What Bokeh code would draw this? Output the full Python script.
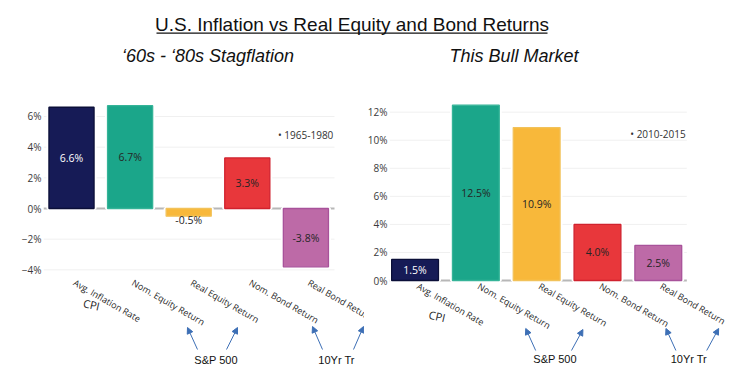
import math
from bokeh.plotting import figure
from bokeh.layouts import column, row
from bokeh.models import Range1d, FixedTicker, Label, Arrow, NormalHead, ColumnDataSource
from bokeh.core.properties import value
from bokeh.embed import file_html
from bokeh.resources import INLINE

# ---------------- data ----------------
categories = ["Avg. Inflation Rate", "Nom. Equity Return", "Real Equity Return",
              "Nom. Bond Return", "Real Bond Return"]
stag_values = [6.6, 6.7, -0.5, 3.3, -3.8]     # 1965-1980
bull_values = [1.5, 12.5, 10.9, 4.0, 2.5]     # 2010-2015
stag_period = "1965-1980"
bull_period = "2010-2015"
left_ticks = [-4, -2, 0, 2, 4, 6]
right_ticks = [0, 2, 4, 6, 8, 10, 12]
main_title = "U.S. Inflation vs Real Equity and Bond Returns"
left_title = "\u201860s - \u201880s Stagflation"
right_title = "This Bull Market"
cpi_note = "CPI"
equity_note = "S&P 500"
bond_note = "10Yr Tr"

# ---------------- styles ----------------
bar_fill = ["#161b56", "#1ba68a", "#f8b83a", "#e8373b", "#bd6aa7"]
bar_line = ["#0b0f38", "#35b498", "#f2c25a", "#d0222e", "#a8529a"]
txt_col = ["#ffffff", "#252525", "#252525", "#252525", "#252525"]
ARROW = "#3d6fb5"
TICKF = "Open Sans"
TOP_H = 70
H = 376 - TOP_H


def pct_label(t):
    return (f"{t}%").replace("-", "\u2212")


class Panel:
    """A panel whose frame runs to the canvas bottom; gx/gy convert page pixels."""

    def __init__(self, width, gx0, fx0, fx1, cx0, step, zero_y, ppu):
        self.gx0 = gx0            # page x of canvas left
        self.fx0, self.fx1 = fx0, fx1
        self.cx0, self.step = cx0, step
        self.zero_y, self.ppu = zero_y, ppu
        self.xr = ((fx0 - cx0) / step, (gx0 + width - cx0) / step)
        self.yr = ((zero_y - 376) / ppu, (zero_y - TOP_H) / ppu)
        self.width = width

    def gx(self, x):
        return (x - self.cx0) / self.step

    def gy(self, y):
        return (self.zero_y - y) / self.ppu


def make_panel(pn, vals, ticks, period, label_top, legend_y):
    p = figure(width=pn.width, height=H, x_range=Range1d(*pn.xr), y_range=Range1d(*pn.yr),
               output_backend="svg", toolbar_location=None, title_location=None,
               min_border_left=pn.fx0 - pn.gx0, min_border_right=0,
               min_border_top=0, min_border_bottom=0)
    p.outline_line_color = None
    p.background_fill_color = "white"
    p.border_fill_color = "white"
    p.xaxis.visible = False
    p.xgrid.visible = False
    p.ygrid.visible = False

    xs = list(range(len(categories)))
    # y axis (library axis)
    p.yaxis.ticker = FixedTicker(ticks=ticks)
    p.yaxis.major_label_overrides = {t: pct_label(t) for t in ticks}
    p.yaxis.axis_line_color = None
    p.yaxis.major_tick_line_color = None
    p.yaxis.minor_tick_line_color = None
    p.yaxis.major_tick_out = 0
    p.yaxis.minor_tick_out = 0
    p.yaxis.major_label_standoff = 2
    p.yaxis.major_label_text_font = TICKF
    p.yaxis.major_label_text_font_size = "10px"
    p.yaxis.major_label_text_color = "#3a3a3a"

    # plot-area extent of grid lines
    gx_a, gx_b = pn.gx(pn.fx0), pn.gx(pn.fx1)
    grid_t = [t for t in ticks if t != 0]
    p.segment(x0=[gx_a] * len(grid_t), x1=[gx_b] * len(grid_t), y0=grid_t, y1=grid_t,
              line_color="#f0f0f0", line_width=1)
    p.segment(x0=[gx_a], x1=[gx_b], y0=[0], y1=[0], line_color="#b7b7b7", line_width=2)

    mids = [v / 2 if abs(v) > 1 else (v - 0.24 if v < 0 else v + 0.24) for v in vals]
    src = ColumnDataSource(dict(x=xs, top=vals, fill=bar_fill, line=bar_line,
                                mid=mids, txt=[f"{v:.1f}%" for v in vals],
                                tc=[txt_col[i] if abs(v) > 1 else "#252525"
                                    for i, v in enumerate(vals)]))
    p.vbar(x="x", top="top", bottom=0, width=0.77, source=src,
           fill_color="white", line_color="white", line_width=5)
    p.vbar(x="x", top="top", bottom=0, width=0.77, source=src,
           fill_color="fill", line_color="line", line_width=1.3)
    p.text(x="x", y="mid", text="txt", source=src, text_color="tc",
           text_align="center", text_baseline="middle",
           text_font=value(TICKF), text_font_size="10.5px")

    # category labels (rotated)
    shift = 6 / pn.step
    cat_src = ColumnDataSource(dict(x=[i + shift for i in xs],
                                    y=[pn.gy(label_top)] * len(xs), t=categories))
    p.text(x="x", y="y", text="t", source=cat_src, angle=-math.pi / 6,
           text_align="left", text_baseline="top", text_font=value(TICKF),
           text_font_size="9px", text_color="#262626")

    p.add_layout(Label(x=gx_b - 0.02, y=pn.gy(legend_y), text="\u2022 " + period,
                       text_font=TICKF, text_font_size="10px",
                       text_color="#333333", text_align="right",
                       text_baseline="middle"))
    return p


def add_notes(p, pn, cpi_xy, sp_xy, tr_xy, arrows):
    p.add_layout(Label(x=pn.gx(cpi_xy[0]), y=pn.gy(cpi_xy[1]), text=cpi_note,
                       text_font=TICKF, text_font_size="11px", text_color="#222222",
                       text_align="center", text_baseline="middle", angle=-0.23))
    for txt, (cx, cy) in ((equity_note, sp_xy), (bond_note, tr_xy)):
        p.add_layout(Label(x=pn.gx(cx), y=pn.gy(cy), text=txt,
                           text_font="Liberation Sans", text_font_size="11px",
                           text_color="#111111", text_align="center",
                           text_baseline="middle"))
    for (x0, y0, x1, y1) in arrows:
        p.add_layout(Arrow(x_start=pn.gx(x0), y_start=pn.gy(y0),
                           x_end=pn.gx(x1), y_end=pn.gy(y1),
                           line_color=ARROW, line_width=1,
                           end=NormalHead(size=6, fill_color=ARROW,
                                          line_color=ARROW, line_width=1)))


# ---------- left panel: page x 0..364 ----------
LP = Panel(width=364, gx0=0, fx0=43, fx1=334, cx0=71, step=58.6, zero_y=208, ppu=15.34)
left = make_panel(LP, stag_values, left_ticks, stag_period, label_top=275.5, legend_y=134)
add_notes(left, LP, (91, 304), (215.5, 359.5), (336, 359.5),
          [(197, 349, 187, 327), (226, 349, 237, 327),
           (322, 349, 312, 326), (353, 349, 363, 326)])

# ---------- right panel: page x 364..745 ----------
RP = Panel(width=381, gx0=364, fx0=387, fx1=686, cx0=412.7, step=61.15, zero_y=280, ppu=14.03)
right = make_panel(RP, bull_values, right_ticks, bull_period, label_top=279, legend_y=133)
add_notes(right, RP, (435, 315.5), (553.5, 358), (688, 358),
          [(534, 350, 524, 328), (570, 350, 581.5, 329),
           (675, 350, 665, 328), (706, 350, 718, 328)])

# ---------- title strip ----------
top = figure(width=745, height=TOP_H, x_range=Range1d(0, 745), y_range=Range1d(0, TOP_H),
             output_backend="svg", toolbar_location=None, title_location=None, min_border=0)
top.axis.visible = False
top.grid.visible = False
top.outline_line_color = None
top.add_layout(Label(x=351.5, y=TOP_H - 24.3, text=main_title,
                     text_font="Liberation Sans", text_font_size="19px",
                     text_color="#111111", text_align="center",
                     text_baseline="alphabetic"))
top.segment(x0=[156], y0=[TOP_H - 32.7], x1=[547], y1=[TOP_H - 32.7],
            line_color="#111111", line_width=1.3)
for txt, cx in ((left_title, 207.5), (right_title, 513.5)):
    top.add_layout(Label(x=cx, y=TOP_H - 55.3, text=txt,
                         text_font="Liberation Sans", text_font_style="italic",
                         text_font_size="18px", text_color="#111111",
                         text_align="center", text_baseline="alphabetic"))

layout = column(top, row(left, right, spacing=0), spacing=0)

with open("out.html", "w") as f:
    f.write(file_html(layout, INLINE))
